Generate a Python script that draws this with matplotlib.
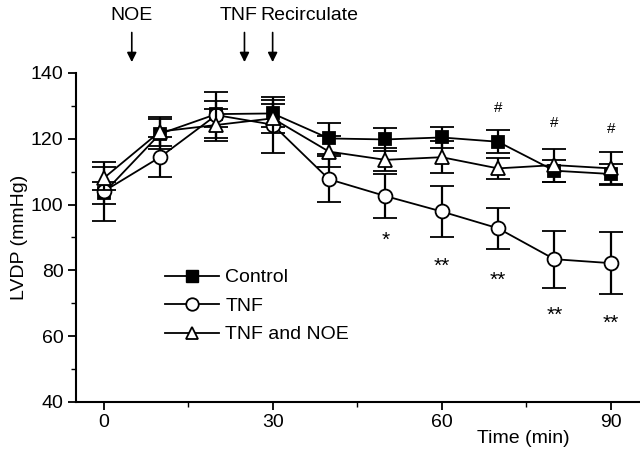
import matplotlib
matplotlib.use("Agg")
import matplotlib.pyplot as plt
from matplotlib.ticker import MultipleLocator
from matplotlib.lines import Line2D

plt.rcParams['font.family'] = ['Liberation Sans', 'DejaVu Sans']

time = [0, 10, 20, 30, 40, 50, 60, 70, 80, 90]
control_mean = [103.5, 121.5, 127.5, 127.7, 120.1, 119.8, 120.4, 119.1, 110.3, 109.3]
control_sem = [3.3, 4.5, 4.0, 4.0, 4.8, 3.6, 3.3, 3.5, 3.4, 3.0]
tnf_mean = [104.0, 114.4, 127.2, 124.3, 107.7, 102.6, 97.9, 92.8, 83.4, 82.2]
tnf_sem = [9.0, 6.0, 7.0, 8.5, 7.0, 6.7, 7.7, 6.3, 8.7, 9.5]
noe_mean = [108.0, 122.2, 124.2, 126.2, 116.1, 113.6, 114.4, 111.0, 112.0, 111.0]
noe_sem = [3.5, 4.5, 5.0, 4.5, 4.7, 3.5, 4.8, 3.2, 5.0, 5.0]

series_labels = ['Control', 'TNF', 'TNF and NOE']

star_times = [50, 60, 70, 80, 90]
star_labels = ['*', '**', '**', '**', '**']
star_y = [89.2, 81.3, 77.1, 66.4, 63.9]
hash_times = [70, 80, 90]
hash_y = [129.3, 124.9, 122.9]

event_times = [5, 25, 30]
event_labels = ['NOE', 'TNF', 'Recirculate']

fig = plt.figure(figsize=(6.4, 4.57), dpi=100)
ax = fig.add_axes([0.11875, 0.1204, 0.88125, 0.7199])

base = dict(color='black', lw=1.3, elinewidth=1.6, capsize=8.5, capthick=1.6,
            markeredgewidth=1.3)
ax.errorbar(time, control_mean, yerr=control_sem, marker='s', mfc='black',
            markersize=9, zorder=3, **base)
ax.errorbar(time, tnf_mean, yerr=tnf_sem, marker='o', mfc='white',
            markersize=10, zorder=4, **base)
ax.errorbar(time, noe_mean, yerr=noe_sem, marker='^', mfc='white',
            markersize=10, zorder=5, **base)

ax.set_xlim(-4.9, 95.2)
ax.set_ylim(40, 140)
ax.xaxis.set_major_locator(MultipleLocator(30))
ax.xaxis.set_minor_locator(MultipleLocator(15))
ax.yaxis.set_major_locator(MultipleLocator(20))
ax.yaxis.set_minor_locator(MultipleLocator(10))
ax.spines['top'].set_visible(False)
ax.spines['right'].set_visible(False)
ax.spines['left'].set_linewidth(1.5)
ax.spines['bottom'].set_linewidth(1.5)
ax.tick_params(axis='both', which='major', direction='out', length=6, width=1.3,
               labelsize=14, pad=3)
ax.tick_params(axis='both', which='minor', direction='out', length=3.5, width=1.0)

ax.set_ylabel('LVDP (mmHg)', fontsize=14)
ax.yaxis.set_label_coords(-0.085, 0.5)
ax.set_xlabel('Time (min)', fontsize=14)
ax.xaxis.set_label_coords(0.7926, -0.085)

for t, lab, y in zip(star_times, star_labels, star_y):
    ax.text(t, y, lab, ha='center', va='center', fontsize=15)
for t, y in zip(hash_times, hash_y):
    ax.text(t, y, '#', ha='center', va='center', fontsize=11)

# event arrows above the axes
for t in event_times:
    ax.annotate('', xy=(t, 143.3), xytext=(t, 152.3), xycoords='data',
                annotation_clip=False,
                arrowprops=dict(arrowstyle='-|>', color='black', lw=1.2,
                                mutation_scale=14, shrinkA=0, shrinkB=0))
ax.text(event_times[0], 157.6, event_labels[0], ha='center', va='center',
        fontsize=14, clip_on=False)
ax.text(event_times[1] + 2.4, 157.6, event_labels[1], ha='right', va='center',
        fontsize=14, clip_on=False)
ax.text(event_times[2] - 2.1, 157.6, event_labels[2], ha='left', va='center',
        fontsize=14, clip_on=False)

handles = [
    Line2D([], [], color='black', lw=1.3, marker='s', mfc='black', markersize=8),
    Line2D([], [], color='black', lw=1.3, marker='o', mfc='white', markersize=9,
           markeredgewidth=1.3),
    Line2D([], [], color='black', lw=1.3, marker='^', mfc='white', markersize=9,
           markeredgewidth=1.3),
]
ax.legend(handles, series_labels, loc='upper left', bbox_to_anchor=(0.158, 0.405),
          frameon=False, fontsize=14, handlelength=2.75, handletextpad=0.35,
          labelspacing=0.56, borderaxespad=0, borderpad=0)

fig.savefig('out.png', dpi=100)
